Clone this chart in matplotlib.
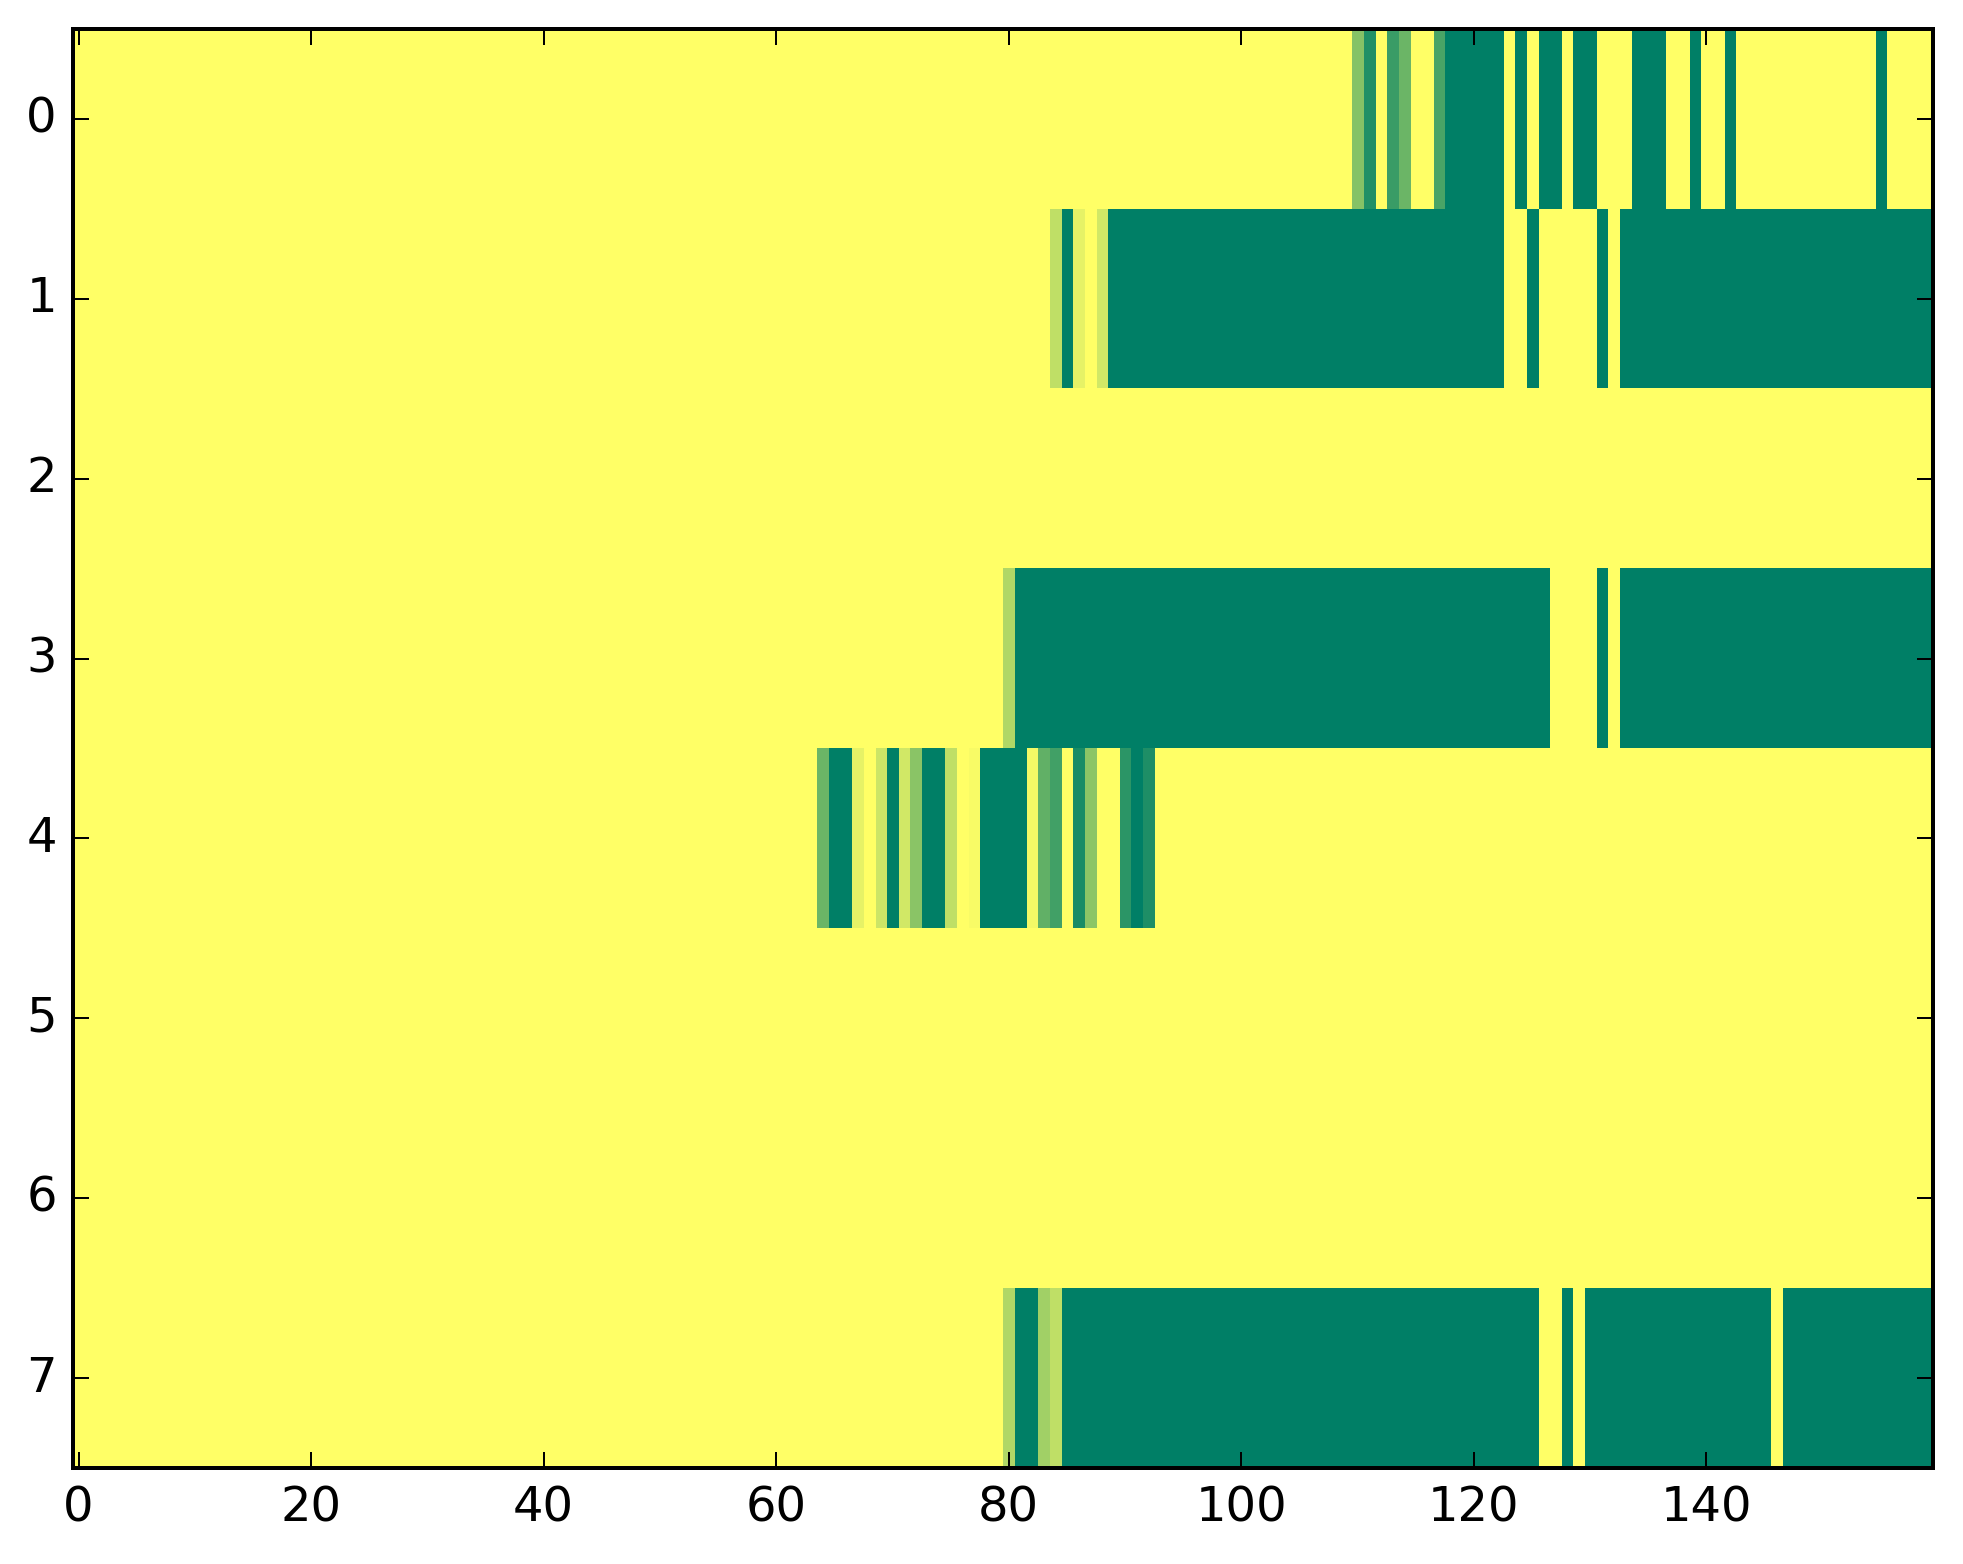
import numpy as np
import matplotlib
matplotlib.use("Agg")
import matplotlib.pyplot as plt

N_COLS = 160
N_ROWS = 8

# each active row: first coloured column, then the values from there on
row0_start = 110
row0_vals = [
    0.48, 0.87, 0, 0.77, 0.58, 0, 0, 0.71,
    1, 1, 1, 1, 1,
    0, 1, 0, 1, 1, 0, 1, 1,
    0, 0, 0, 1, 1, 1, 0, 0, 1, 0, 0, 1,
    0, 0, 0, 0, 0, 0, 0, 0, 0, 0, 0, 0,
    1, 0, 0, 0, 0,
]

row1_start = 84
row1_vals = [
    0.25, 1, 0.1, 0, 0.18,
    1, 1, 1, 1, 1, 1, 1, 1, 1, 1, 1, 1, 1, 1, 1, 1, 1,
    1, 1, 1, 1, 1, 1, 1, 1, 1, 1, 1, 1, 1, 1, 1, 1, 1,
    0, 0, 1, 0, 0, 0, 0, 0, 1, 0,
    1, 1, 1, 1, 1, 1, 1, 1, 1, 1, 1, 1, 1, 1,
    1, 1, 1, 1, 1, 1, 1, 1, 1, 1, 1, 1, 1,
]

row3_start = 80
row3_vals = [
    0.31,
    1, 1, 1, 1, 1, 1, 1, 1, 1, 1, 1, 1, 1, 1, 1, 1,
    1, 1, 1, 1, 1, 1, 1, 1, 1, 1, 1, 1, 1, 1, 1, 1,
    1, 1, 1, 1, 1, 1, 1, 1, 1, 1, 1, 1, 1, 1,
    0, 0, 0, 0, 1, 0,
    1, 1, 1, 1, 1, 1, 1, 1, 1, 1, 1, 1, 1, 1,
    1, 1, 1, 1, 1, 1, 1, 1, 1, 1, 1, 1, 1,
]

row4_start = 64
row4_vals = [
    0.58, 1, 1, 0.1, 0, 0.2, 1, 0.18, 0.46, 1, 1, 0.25, 0, 0.03,
    1, 1, 1, 1, 0.05, 0.62, 0.74, 0, 0.9, 0.45, 0, 0, 0.83, 1, 0.88,
]

row7_start = 80
row7_vals = [
    0.31, 1, 1, 0.37, 0.25,
    1, 1, 1, 1, 1, 1, 1, 1, 1, 1, 1, 1, 1, 1,
    1, 1, 1, 1, 1, 1, 1, 1, 1, 1, 1, 1, 1, 1,
    1, 1, 1, 1, 1, 1, 1, 1, 1, 1, 1, 1, 1,
    0, 0, 1, 0,
    1, 1, 1, 1, 1, 1, 1, 1, 1, 1, 1, 1, 1, 1, 1, 1,
    0,
    1, 1, 1, 1, 1, 1, 1, 1, 1, 1, 1, 1, 1,
]

ROWS = {
    0: (row0_start, row0_vals),
    1: (row1_start, row1_vals),
    3: (row3_start, row3_vals),
    4: (row4_start, row4_vals),
    7: (row7_start, row7_vals),
}

DPI = 288
W, H = 1963, 1564


def build_matrix():
    data = np.zeros((N_ROWS, N_COLS))
    for row, (start, vals) in ROWS.items():
        data[row, start:start + len(vals)] = vals
    return data


def main():
    plt.style.use("classic")
    data = build_matrix()

    fig = plt.figure(figsize=(W / DPI, H / DPI), dpi=DPI)
    left, right, top, bottom = 72.7, 1933, 29, 1468
    ax = fig.add_axes([left / W, 1 - bottom / H, (right - left) / W, (bottom - top) / H])
    ax.imshow(data, cmap="summer_r", vmin=0, vmax=1, aspect="auto",
              interpolation="nearest")
    ax.set_xticks(range(0, 160, 20))
    ax.set_yticks(range(N_ROWS))
    ax.set_xlim(-0.5, N_COLS - 0.5)
    ax.set_ylim(N_ROWS - 0.5, -0.5)

    fig.savefig("out.png", dpi=DPI)
    plt.close(fig)


if __name__ == "__main__":
    main()
